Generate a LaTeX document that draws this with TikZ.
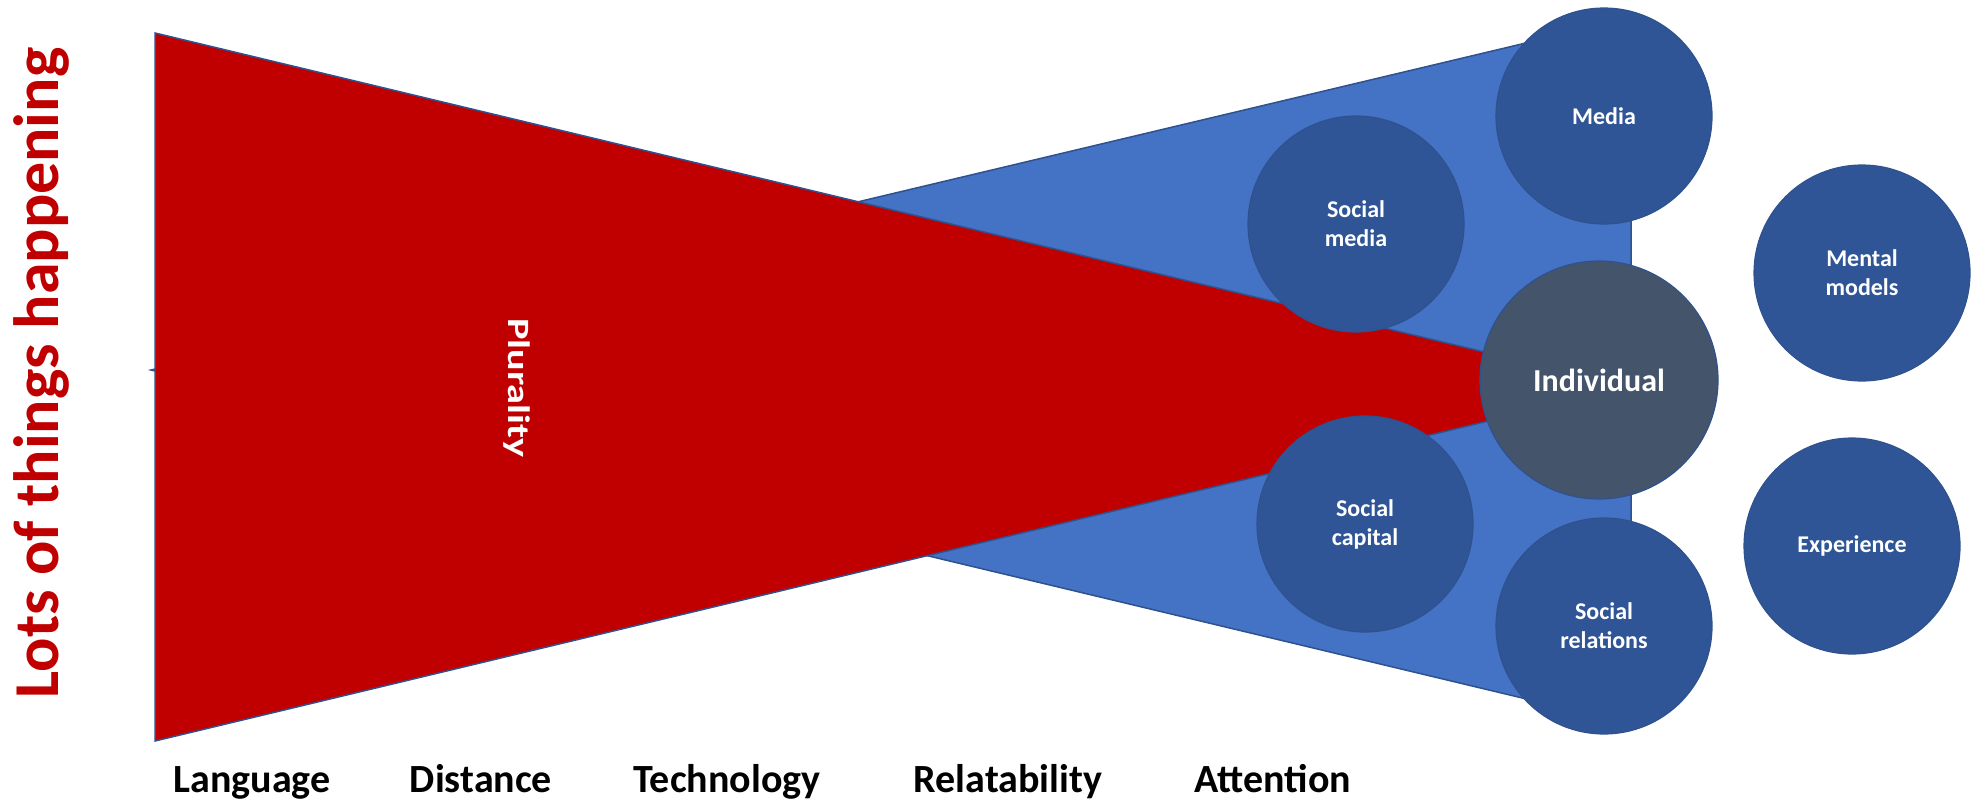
\documentclass[tikz,border=0pt]{standalone}
\usepackage{fontspec}
\setmainfont{Carlito}
\definecolor{redT}{HTML}{C00000}
\definecolor{blueT}{HTML}{4472C4}
\definecolor{bubbleC}{HTML}{2F5597}
\definecolor{indivC}{HTML}{44546A}
\definecolor{edgeC}{HTML}{2F528F}
\begin{document}
\begin{tikzpicture}[x=0.5pt,y=-0.5pt,
  tri/.style={draw=edgeC, line width=0.75pt, line join=miter},
  bubble/.style={circle, draw=edgeC, line width=0.6pt, fill=bubbleC, text=white,
    minimum size=108pt, inner sep=0pt, align=center,
    font=\bfseries\fontsize{12}{14.5}\selectfont},
  axislabel/.style={anchor=base, font=\bfseries\fontsize{20}{24}\selectfont, text=black}]
\useasboundingbox (0,0) rectangle (1974,803);
% blue (behind) and red (front) triangles
\draw[tri, fill=blueT] (151,370) -- (1631,18) -- (1631,724) -- cycle;
\draw[tri, fill=redT] (155,33) -- (1630,387) -- (155,741) -- cycle;
% vertical texts
\node[rotate=90, anchor=base, text=redT, font=\bfseries\fontsize{32}{36}\selectfont] (lots) at (58,373) {Lots of things happening};
\node[rotate=-90, anchor=base, text=white, font=\bfseries\fontsize{15.5}{18}\selectfont] (plur) at (508,388) {\scalebox{1.3}[1]{Plurality}};
% bubbles
\node[bubble] (media) at (1604,116) {Media};
\node[bubble] (smedia) at (1356,224) {Social\\media};
\node[bubble] (scap) at (1365,524) {Social\\capital};
\node[bubble] (srel) at (1604,626) {Social\\relations};
\node[bubble] (mental) at (1862,273) {Mental\\models};
\node[bubble] (exper) at (1852,546) {Experience};
\node[bubble, fill=indivC, minimum size=119pt, font=\bfseries\fontsize{16}{19}\selectfont] (indiv) at (1599,380) {Individual};
% bottom labels
\node[axislabel] (lang) at (252,792) {Language};
\node[axislabel] (dist) at (481,792) {Distance};
\node[axislabel] (tech) at (727,792) {Technology};
\node[axislabel] (rel) at (1008,792) {Relatability};
\node[axislabel] (att) at (1273,792) {Attention};
\end{tikzpicture}
\end{document}
